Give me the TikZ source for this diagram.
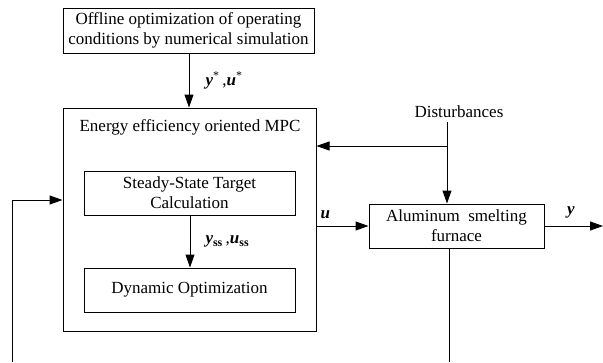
\documentclass[tikz,border=0pt]{standalone}
\usepackage{fontspec}
\setmainfont{Liberation Serif}
\usetikzlibrary{arrows.meta,positioning,calc}
\tikzset{
        block/.style = {draw, rectangle, inner sep=0pt, align=center,
            font=\fontsize{17}{20}\selectfont},
        lbl/.style = {inner sep=0pt, font=\fontsize{17}{20}\selectfont},
        arrow/.style = {draw, -{Triangle[length=13pt,width=9pt]}},
    }
\newcommand{\bvec}[1]{\textbf{\textit{#1}}}

\begin{document}
\begin{tikzpicture}[x=1pt, y=-1pt, line width=1pt]
            \useasboundingbox (0,0) rectangle (603,362);

            % blocks
            \node[block, minimum width=251pt, minimum height=45pt] (offline) at (188.5,30.5)
                  {Offline optimization of operating\\conditions by numerical simulation};
            \node[block, minimum width=253pt, minimum height=223pt] (mpc) at (189.5,219.5) {};
            \node[lbl] (mpctitle) at (190,127) {Energy efficiency oriented MPC};
            \node[block, minimum width=211pt, minimum height=44pt] (sstc) at (189.5,193)
                  {Steady-State Target\\Calculation};
            \node[block, minimum width=211pt, minimum height=44pt] (dynopt) at (189.5,290)
                  {Dynamic Optimization};
            \node[block, minimum width=175pt, minimum height=44pt] (furnace) at (456.5,226)
                  {Aluminum\ \ smelting\\furnace};
            \node[lbl] (disturb) at (459,112) {Disturbances};

            \coordinate (dtop) at (447,122);
            \coordinate (dsplit) at (447,146);
            \coordinate (yout) at (603,226);
            \coordinate (fbstart) at (12,362);
            \coordinate (fbend) at (449,362);

            % signals
            \draw[arrow] (offline.south -| 189,0) -- (mpc.north -| 189,0)
                  node[lbl, pos=0.5, right=16pt] (ystar) {\bvec{y}\textsuperscript{*}\,,\bvec{u}\textsuperscript{*}};
            \draw[arrow] (sstc.south -| 190,0) -- (dynopt.north -| 190,0)
                  node[lbl, pos=0.5, right=15pt] (yss) {\bvec{y}\textsubscript{\textbf{ss}}\,,\bvec{u}\textsubscript{\textbf{ss}}};
            \draw[arrow] (mpc.east |- furnace.west) -- (furnace.west)
                  node[lbl, pos=0.17, above=7pt] (ulbl) {\bvec{u}};
            \draw[arrow] (furnace.east) -- (yout)
                  node[lbl, pos=0.45, above=7pt] (ylbl) {\bvec{y}};
            \draw[arrow] (dtop) -- (dtop |- furnace.north);
            \draw[arrow] (dsplit) -- (mpc.east |- dsplit);

            % feedback
            \draw (furnace.south -| fbend) -- (fbend);
            \draw[arrow] (fbstart) -- (fbstart |- 0,200) -- (mpc.west |- 0,200);
\end{tikzpicture}
\end{document}
